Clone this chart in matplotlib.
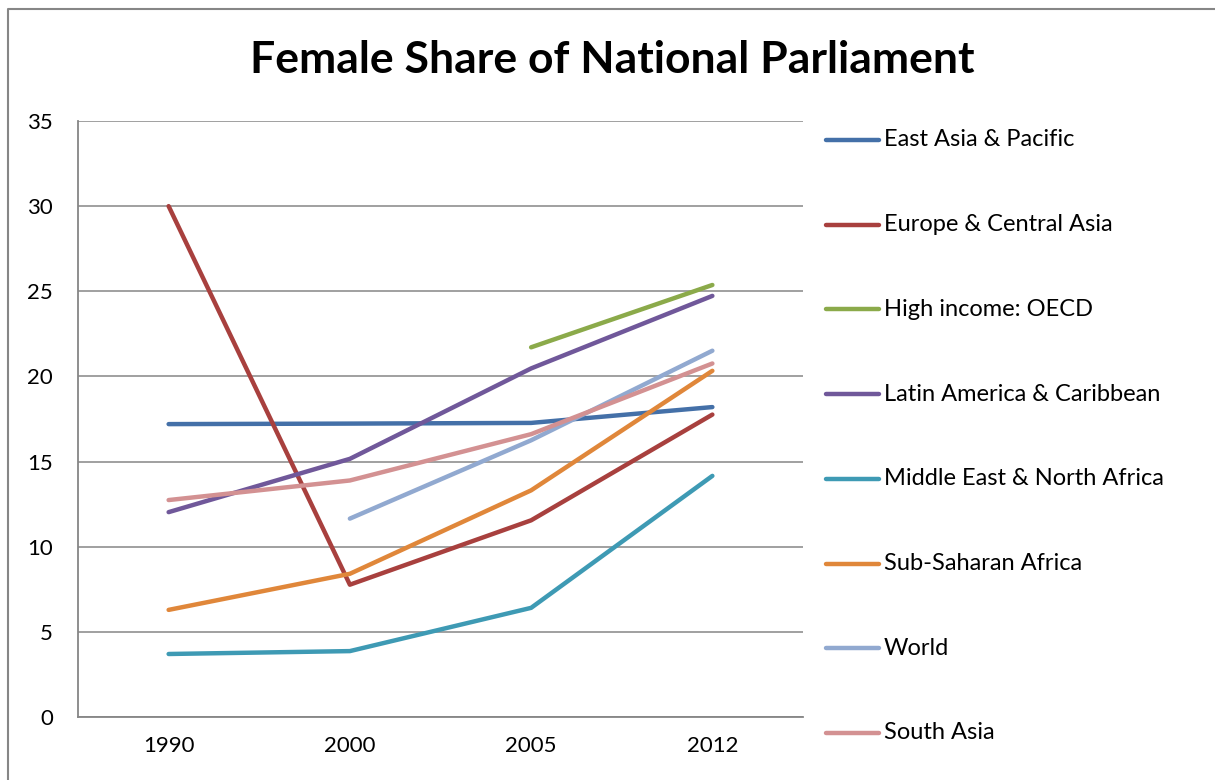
import matplotlib.pyplot as plt
import numpy as np
from matplotlib.lines import Line2D

plt.rcParams['font.family'] = ['Lato', 'DejaVu Sans']

years = ['1990', '2000', '2005', '2012']
regions = ['East Asia & Pacific', 'Europe & Central Asia', 'High income: OECD',
           'Latin America & Caribbean', 'Middle East & North Africa',
           'Sub-Saharan Africa', 'World', 'South Asia']

east_asia = [17.2, 17.23, 17.27, 18.2]
europe = [30.0, 7.77, 11.55, 17.76]
high_income = [np.nan, np.nan, 21.71, 25.37]
latin_america = [12.03, 15.16, 20.47, 24.73]
mena = [3.70, 3.87, 6.41, 14.16]
sub_saharan = [6.29, 8.41, 13.31, 20.33]
world = [np.nan, 11.65, 16.25, 21.51]
south_asia = [12.74, 13.89, 16.61, 20.76]

series = [east_asia, europe, high_income, latin_america, mena, sub_saharan, world, south_asia]
colors = ['#4470A8', '#A8403E', '#8BAA4A', '#70589A', '#3E9AB4', '#E0873A', '#91A9D0', '#D39192']

W, H = 1215, 780
fig = plt.figure(figsize=(W / 100, H / 100), dpi=100)
ax = fig.add_axes([78 / W, 1 - 717 / H, (803 - 78) / W, (717 - 121) / H])

x = np.arange(len(years))
for vals, c in zip(series, colors):
    ax.plot(x, vals, color=c, lw=3.2, solid_capstyle='round', solid_joinstyle='round', zorder=3)

grid_c = '#868686'
ax.set_xlim(-0.5, 3.5)
ax.set_ylim(0, 35)
ax.set_yticks(range(0, 36, 5))
ax.set_xticks(x)
ax.set_xticklabels(years)
ax.yaxis.grid(True, color=grid_c, lw=1.1)
ax.set_axisbelow(True)
for s in ['top', 'right']:
    ax.spines[s].set_visible(False)
for s in ['left', 'bottom']:
    ax.spines[s].set_color(grid_c)
    ax.spines[s].set_linewidth(1.3)
ax.tick_params(axis='y', length=0, pad=18, labelsize=16)
ax.tick_params(axis='x', length=0, pad=14, labelsize=16)

fig.text(612 / W, 1 - 60 / H, 'Female Share of National Parliament',
         ha='center', va='center', fontsize=32, fontweight='bold')

# legend, drawn by hand to match the Excel layout
for i, (name, c) in enumerate(zip(regions, colors)):
    yy = 1 - (140 + i * 84.7) / H
    fig.add_artist(Line2D([826 / W, 879 / W], [yy, yy], color=c, lw=3.2,
                          solid_capstyle='round', transform=fig.transFigure))
    fig.text(884 / W, yy, name, ha='left', va='center', fontsize=17)

# chart area border (top and left visible)
fig.add_artist(Line2D([8 / W, 8 / W, 1.0], [0.0, 1 - 9 / H, 1 - 9 / H], color=grid_c,
                      lw=1.5, transform=fig.transFigure))

fig.savefig('out.png', dpi=100)
